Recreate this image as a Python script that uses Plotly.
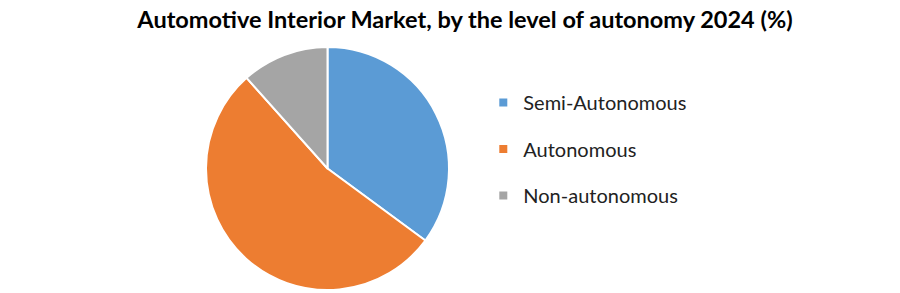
import plotly.graph_objects as go

categories = ["Semi-Autonomous", "Autonomous", "Non-autonomous"]
shares = [35.1, 53.3, 11.6]
colors = ["#5B9BD5", "#ED7D31", "#A5A5A5"]

W, H = 900, 293
cx, cy, r = 327.5, 168.5, 121.5

fig = go.Figure()
fig.add_trace(go.Pie(
    labels=categories, values=shares, sort=False, direction="clockwise",
    rotation=0, textinfo="none", showlegend=False,
    marker=dict(colors=colors, line=dict(color="white", width=2)),
    domain=dict(x=[(cx - r) / W, (cx + r) / W], y=[(H - cy - r) / H, (H - cy + r) / H]),
))
for i, (c, col) in enumerate(zip(categories, colors)):
    fig.add_trace(go.Scatter(
        x=[None], y=[None], mode="markers", name=c, legendgroup=c,
        marker=dict(symbol="square", size=8, color=col),
    ))

fig.update_layout(
    width=W, height=H, margin=dict(l=0, r=0, t=0, b=0),
    paper_bgcolor="white", plot_bgcolor="white",
    title=dict(text="<b>Automotive Interior Market, by the level of autonomy 2024 (%)</b>",
               x=465 / W, xanchor="center", y=1 - 19.5 / H, yanchor="middle",
               font=dict(family="Lato", size=23.5, color="black")),
    xaxis=dict(visible=False), yaxis=dict(visible=False),
    legend=dict(x=0.537, xanchor="left", y=1 - 149 / H, yanchor="middle",
                tracegroupgap=17.5, font=dict(family="Lato", size=20, color="#222"),
                bgcolor="rgba(0,0,0,0)"),
)
fig.write_html("out.html")
